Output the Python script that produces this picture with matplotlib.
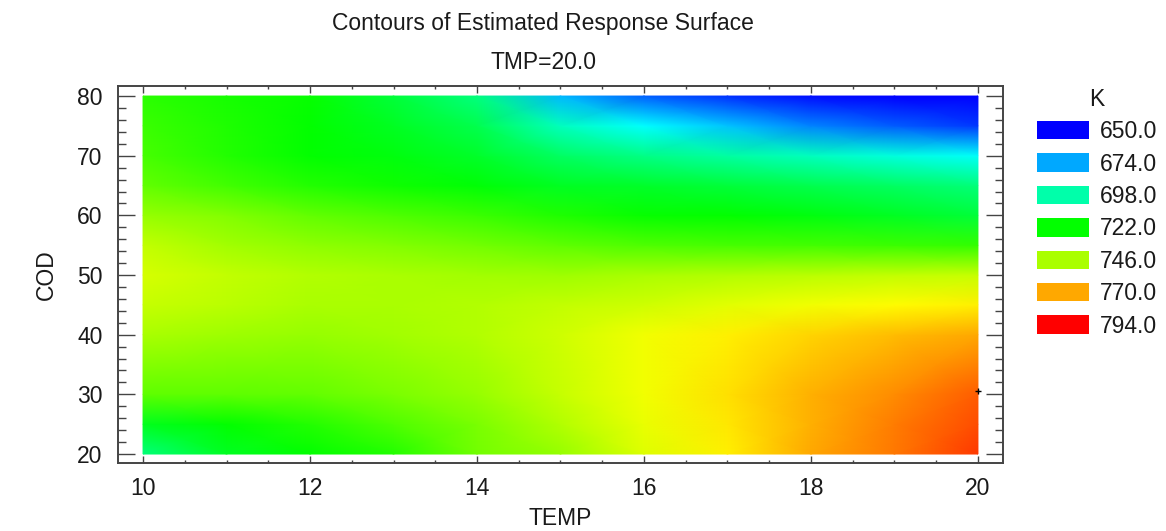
import numpy as np
import matplotlib
matplotlib.use('Agg')
import matplotlib.pyplot as plt
from matplotlib.colors import ListedColormap, Normalize, hsv_to_rgb
from matplotlib.patches import Patch
from matplotlib.ticker import MultipleLocator

plt.rcParams['font.family'] = ['Liberation Sans', 'DejaVu Sans']

# grid of the estimated response K (TMP fixed at 20.0)
temp = [10, 11, 12, 13, 14, 15, 16, 17, 18, 19, 20]
cod = [20, 25, 30, 40, 45, 50, 55, 60, 65, 70, 75, 80]

k_cod20 = [705, 717, 722, 727, 738, 743, 753, 760, 770, 777, 786]
k_cod25 = [718, 722, 727, 733, 739, 747, 755, 761, 769, 776, 783]
k_cod30 = [735, 735, 736, 739, 743, 750, 756, 762, 769, 774, 781]
k_cod40 = [746, 744, 743, 745, 747, 751, 756, 760, 764, 767, 770]
k_cod45 = [750, 748, 746, 746, 747, 749, 751, 754, 756, 758, 760]
k_cod50 = [752, 749, 747, 746, 745, 744, 746, 747, 748, 749, 750]
k_cod55 = [749, 745, 742, 740, 738, 735, 733, 732, 731, 730, 729]
k_cod60 = [743, 740, 736, 733, 730, 726, 723, 722, 720, 717, 714]
k_cod65 = [736, 731, 727, 724, 721, 717, 716, 714, 711, 708, 705]
k_cod70 = [732, 727, 722, 720, 716, 708, 703, 699, 695, 691, 687]
k_cod75 = [730, 726, 722, 717, 711, 695, 686, 678, 669, 663, 658]
k_cod80 = [728, 725, 723, 714, 704, 676, 664, 657, 652, 648, 645]

# contour levels shown in the legend
levels = [650.0, 674.0, 698.0, 722.0, 746.0, 770.0, 794.0]

# design point marked on the plot
point_temp = [20.0]
point_cod = [30.6]

k_grid = np.array([k_cod20, k_cod25, k_cod30, k_cod40, k_cod45, k_cod50,
                   k_cod55, k_cod60, k_cod65, k_cod70, k_cod75, k_cod80], dtype=float)

# hue runs from blue (lowest level) to red (highest level)
hues = np.linspace(240, 0, 256) / 360.0
cmap = ListedColormap(hsv_to_rgb(np.column_stack([hues, np.ones(256), np.ones(256)])))
norm = Normalize(vmin=levels[0], vmax=levels[-1], clip=True)

fig = plt.figure(figsize=(11.66, 5.31), dpi=100)
ax = fig.add_axes([0.1012, 0.128, 0.759, 0.710])

X, Y = np.meshgrid(temp, cod)
ax.pcolormesh(X, Y, k_grid, cmap=cmap, norm=norm, shading='gouraud')
ax.plot(point_temp, point_cod, marker='+', color='black', markersize=5, linestyle='none')

ax.set_xlim(9.70, 20.30)
ax.set_ylim(18.49, 81.68)

ax.xaxis.set_major_locator(MultipleLocator(2))
ax.xaxis.set_minor_locator(MultipleLocator(0.5))
ax.yaxis.set_major_locator(MultipleLocator(10))
ax.yaxis.set_minor_locator(MultipleLocator(2))

edge = '#444444'
for spine in ax.spines.values():
    spine.set_color(edge)
    spine.set_linewidth(1.4)

ax.tick_params(axis='both', which='both', direction='in', colors=edge,
               labelcolor='#1a1a1a', labelsize=16.5, top=True, right=True)
ax.tick_params(axis='x', which='major', length=5, width=1, pad=10)
ax.tick_params(axis='x', which='minor', length=2.5, width=1)
ax.tick_params(axis='y', which='major', length=12, width=1, pad=11)
ax.tick_params(axis='y', which='minor', length=6, width=1)

ax.set_xlabel('TEMP', fontsize=16.5, color='#1a1a1a', labelpad=5)
ax.set_ylabel('COD', fontsize=16.5, color='#1a1a1a', labelpad=14)

fig.text(0.4657, 0.955, 'Contours of Estimated Response Surface',
         ha='center', va='center', fontsize=16.5, color='#1a1a1a')
fig.text(0.4657, 0.883, 'TMP=20.0', ha='center', va='center', fontsize=16.5, color='#1a1a1a')

handles = [Patch(facecolor=cmap(norm(lv)), edgecolor='none') for lv in levels]
labels = [f'{lv:.1f}' for lv in levels]
leg = fig.legend(handles, labels, title='K', loc='upper left',
                 bbox_to_anchor=(0.8815, 0.852), frameon=False, fontsize=16.5,
                 title_fontsize=16.5, handlelength=2.25, handleheight=0.85,
                 labelspacing=0.41, handletextpad=0.5, borderaxespad=0)
for t in leg.get_texts():
    t.set_color('#1a1a1a')
leg.get_title().set_color('#1a1a1a')

fig.savefig('out.png', dpi=100)
